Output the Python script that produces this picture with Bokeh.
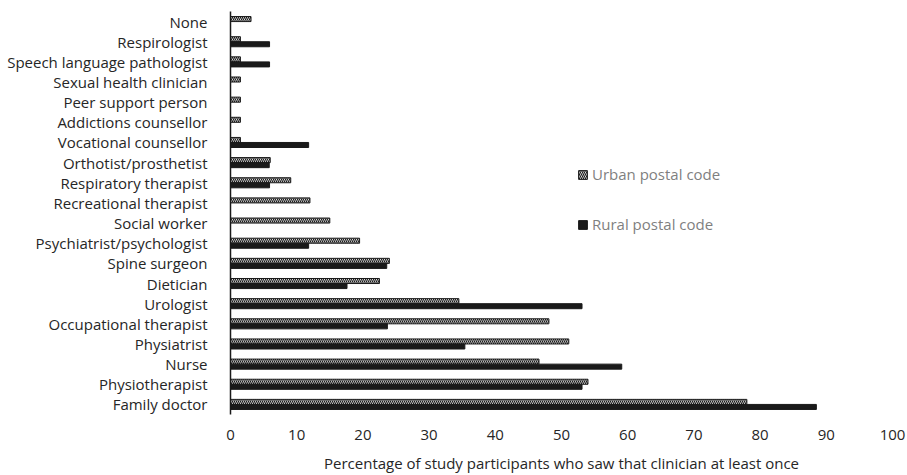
from bokeh.plotting import figure
from bokeh.models import ColumnDataSource, Legend, LegendItem, FactorRange
from bokeh.transform import dodge
from bokeh.embed import file_html
from bokeh.resources import INLINE

categories = ["Family doctor", "Physiotherapist", "Nurse", "Physiatrist",
              "Occupational therapist", "Urologist", "Dietician", "Spine surgeon",
              "Psychiatrist/psychologist", "Social worker", "Recreational therapist",
              "Respiratory therapist", "Orthotist/prosthetist", "Vocational counsellor",
              "Addictions counsellor", "Peer support person", "Sexual health clinician",
              "Speech language pathologist", "Respirologist", "None"]
urban = [78.0, 54.0, 46.6, 51.1, 48.1, 34.5, 22.5, 24.0, 19.5, 15.0, 12.0,
         9.1, 6.0, 1.5, 1.5, 1.5, 1.5, 1.5, 1.5, 3.1]
rural = [88.5, 53.1, 59.1, 35.4, 23.7, 53.1, 17.6, 23.6, 11.8, 0, 0,
         5.9, 5.85, 11.8, 0, 0, 0, 5.9, 5.9, 0]
x_ticks = [0, 10, 20, 30, 40, 50, 60, 70, 80, 90, 100]

FONT = "Open Sans"
FS = "15px"

src = ColumnDataSource(dict(cat=categories, urban=urban, rural=rural))

p = figure(width=907, height=475, y_range=FactorRange(*categories, range_padding=0),
           x_range=(0, 100), output_backend="svg", toolbar_location=None,
           min_border_left=230, min_border_right=15, min_border_top=11, min_border_bottom=0)
p.outline_line_color = None
p.grid.visible = False

r_urban = p.hbar(y=dodge("cat", 0.125, range=p.y_range), right="urban", left=0, height=0.25,
                 source=src, fill_color="white", line_color="#1a1a1a", line_width=1,
                 hatch_pattern="\\", hatch_color="#1a1a1a", hatch_scale=4, hatch_weight=1.2)
r_rural = p.hbar(y=dodge("cat", -0.125, range=p.y_range), right="rural", left=0, height=0.25,
                 source=src, fill_color="#1a1a1a", line_color="#1a1a1a", line_width=1)

p.xaxis.ticker = x_ticks
p.xaxis.axis_line_color = None
p.xaxis.major_tick_line_color = None
p.xaxis.minor_tick_line_color = None
p.xaxis.major_label_standoff = 9
p.xaxis.major_label_text_font = FONT
p.xaxis.major_label_text_font_size = FS
p.xaxis.major_label_text_color = "#262626"
p.xaxis.axis_label = "Percentage of study participants who saw that clinician at least once"
p.xaxis.axis_label_text_font = FONT
p.xaxis.axis_label_text_font_size = FS
p.xaxis.axis_label_text_font_style = "normal"
p.xaxis.axis_label_text_color = "#262626"
p.xaxis.axis_label_standoff = 10

p.yaxis.axis_line_color = "#1a1a1a"
p.yaxis.axis_line_width = 1.5
p.yaxis.major_tick_line_color = None
p.yaxis.minor_tick_line_color = None
p.yaxis.major_label_standoff = 17
p.yaxis.major_label_text_font = FONT
p.yaxis.major_label_text_font_size = FS
p.yaxis.major_label_text_color = "#262626"

legend = Legend(items=[LegendItem(label="Urban postal code", renderers=[r_urban]),
                       LegendItem(label="Rural postal code", renderers=[r_rural])],
                location=(347, 180), orientation="vertical",
                glyph_width=11, glyph_height=11, label_height=11, spacing=30,
                label_standoff=4, padding=0, margin=0,
                border_line_color=None, background_fill_alpha=0,
                label_text_font=FONT, label_text_font_size=FS,
                label_text_color="#7f7f7f")
p.add_layout(legend)

open("out.html", "w").write(file_html(p, INLINE))
